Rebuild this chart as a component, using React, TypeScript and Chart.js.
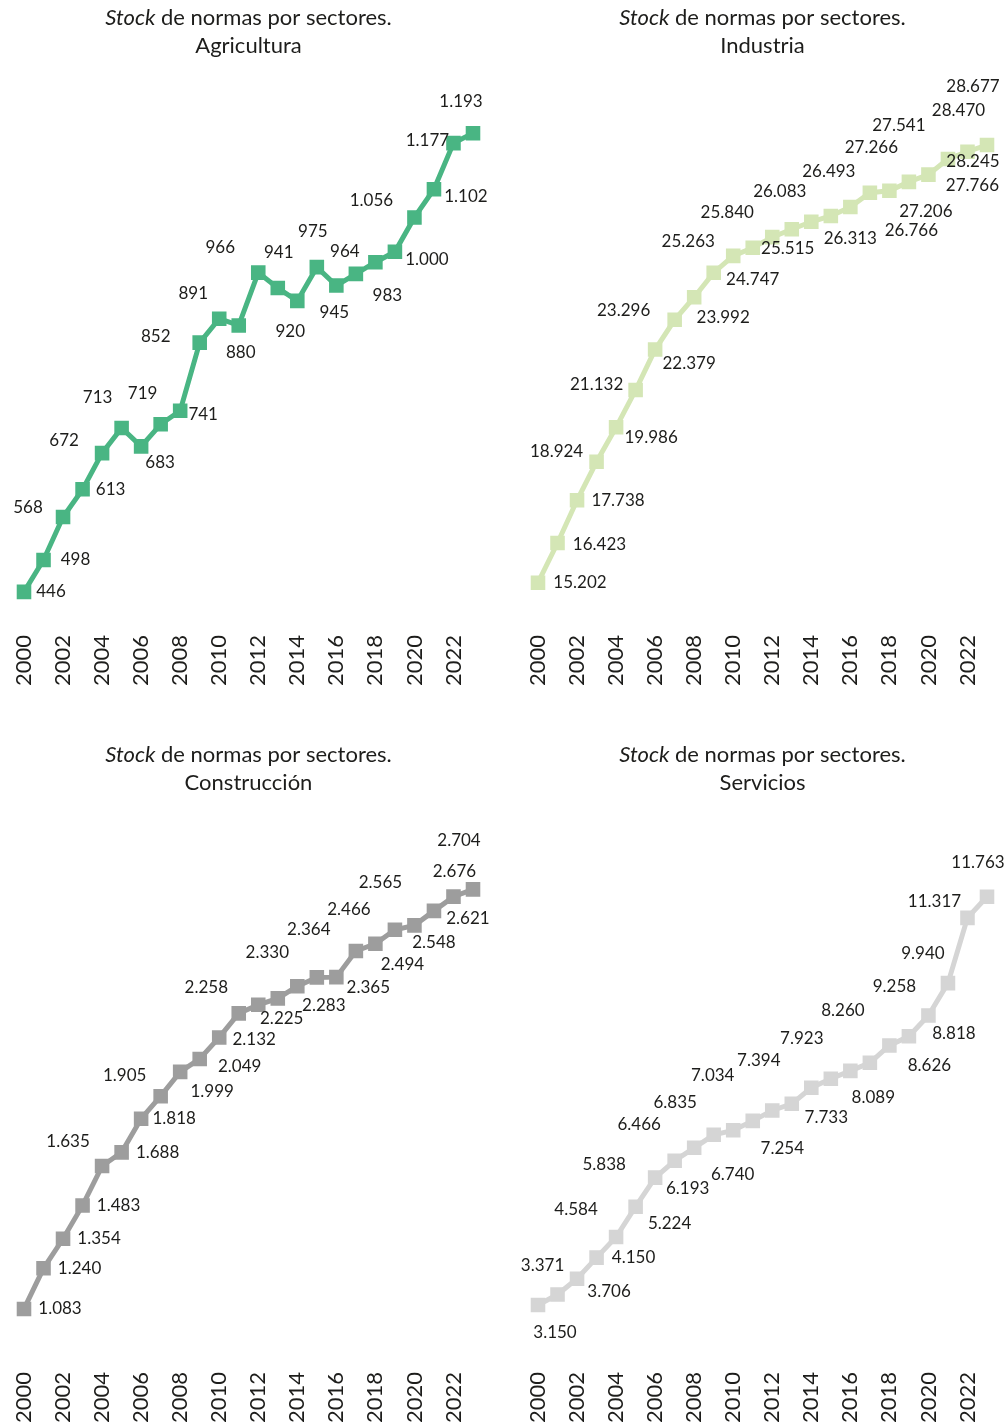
import React, { useEffect, useRef } from "react";
import { Chart, registerables } from "chart.js";

Chart.register(...registerables);

const years = [
  "2000", "2001", "2002", "2003", "2004", "2005", "2006", "2007", "2008", "2009", "2010", "2011",
  "2012", "2013", "2014", "2015", "2016", "2017", "2018", "2019", "2020", "2021", "2022", "2023",
];

const agriculturaValues = [446, 498, 568, 613, 672, 713, 683, 719, 741, 852, 891, 880, 966, 941, 920, 975, 945, 964, 983, 1000, 1056, 1102, 1177, 1193];
const industriaValues = [15202, 16423, 17738, 18924, 19986, 21132, 22379, 23296, 23992, 24747, 25263, 25515, 25840, 26083, 26313, 26493, 26766, 27206, 27266, 27541, 27766, 28245, 28470, 28677];
const construccionValues = [1083, 1240, 1354, 1483, 1635, 1688, 1818, 1905, 1999, 2049, 2132, 2225, 2258, 2283, 2330, 2364, 2365, 2466, 2494, 2548, 2565, 2621, 2676, 2704];
const serviciosValues = [3150, 3371, 3706, 4150, 4584, 5224, 5838, 6193, 6466, 6740, 6835, 7034, 7254, 7394, 7733, 7923, 8089, 8260, 8626, 8818, 9258, 9940, 11317, 11763];

// label nudges (px, relative to each point) — styling only
const agriculturaNudge = [[27, 0], [32, 0], [-35, -9], [28, 0], [-38, -13], [-24, -30], [19, 16], [-18, -31], [23, 4], [-44, -6], [-26, -25], [2, 27], [-38, -25], [1, -35], [-7, 31], [-4, -36], [-2, 27], [-11, -22], [12, 33], [32, 8], [-43, -17], [32, 7], [-26, -3], [-12, -32]];
const industriaNudge = [[42, 0], [42, 1], [41, 0], [-40, -10], [35, 10], [-39, -6], [34, 14], [-51, -9], [29, 20], [39, 7], [-45, -14], [35, 1], [-45, -25], [-12, -38], [39, 17], [-2, -44], [61, 23], [56, 19], [-18, -43], [-10, -56], [44, 11], [25, 2], [-9, -41], [-14, -58]];
const construccionNudge = [[36, 0], [36, 0], [36, 0], [36, 0], [-34, -25], [36, 0], [33, 0], [-36, -21], [32, 20], [40, 8], [35, 2], [43, 5], [-52, -17], [46, 7], [-30, -34], [-8, -48], [32, 10], [-7, -41], [27, 21], [39, 13], [-34, -43], [34, 8], [1, -25], [-14, -49]];
const serviciosNudge = [[17, 27], [-15, -29], [32, 13], [37, 0], [-40, -28], [34, 17], [-51, -13], [13, 28], [-55, -23], [19, 40], [-58, -28], [-40, -45], [10, 38], [-33, -43], [15, 30], [-29, -40], [23, 27], [-27, -52], [40, 20], [45, -3], [-34, -29], [-25, -30], [-33, -16], [-9, -34]];

const FONT = "Lato, 'Open Sans', sans-serif";
const TEXT = "#1d1d1b";

function fmt(v: number): string {
  return String(v).replace(/\B(?=(\d{3})+(?!\d))/g, ".");
}

type PanelProps = {
  sector: string;
  values: number[];
  nudge: number[][];
  color: string;
  yMin: number;
  yMax: number;
  left: number;
  top: number;
};

function Panel({ sector, values, nudge, color, yMin, yMax, left, top }: PanelProps) {
  const ref = useRef<HTMLCanvasElement>(null);
  useEffect(() => {
    const titlePlugin = {
      id: "panelTitle",
      afterDraw(chart: any) {
        const ctx = chart.ctx;
        const ca = chart.chartArea;
        const cx = (ca.left + ca.right) / 2;
        ctx.save();
        ctx.fillStyle = TEXT;
        ctx.textBaseline = "middle";
        const italic = `italic 22px ${FONT}`;
        const normal = `22px ${FONT}`;
        const a = "Stock";
        const b = " de normas por sectores.";
        ctx.font = italic;
        const wa = ctx.measureText(a).width;
        ctx.font = normal;
        const wb = ctx.measureText(b).width;
        const x0 = cx - (wa + wb) / 2;
        ctx.textAlign = "left";
        ctx.font = italic;
        ctx.fillText(a, x0, 18);
        ctx.font = normal;
        ctx.fillText(b, x0 + wa, 18);
        ctx.textAlign = "center";
        ctx.fillText(sector, cx, 46);
        ctx.restore();
      },
    };
    const labelPlugin = {
      id: "pointLabels",
      afterDatasetsDraw(chart: any) {
        const ctx = chart.ctx;
        const meta = chart.getDatasetMeta(0);
        ctx.save();
        ctx.fillStyle = TEXT;
        ctx.font = `17px ${FONT}`;
        ctx.textAlign = "center";
        ctx.textBaseline = "middle";
        meta.data.forEach((pt: any, i: number) => {
          const [dx, dy] = nudge[i];
          ctx.fillText(fmt(values[i]), pt.x + dx, pt.y + dy);
        });
        ctx.restore();
      },
    };
    const chart = new Chart(ref.current as HTMLCanvasElement, {
      type: "line",
      data: {
        labels: years,
        datasets: [
          {
            data: values,
            borderColor: color,
            backgroundColor: color,
            borderWidth: 5,
            pointStyle: "rect",
            pointRadius: 10.3,
            pointHoverRadius: 10.3,
            pointBorderWidth: 0,
            pointBackgroundColor: color,
            tension: 0,
          },
        ],
      },
      options: {
        responsive: false,
        animation: false,
        devicePixelRatio: 1,
        events: [],
        layout: { padding: { top: 75, left: 24, right: 18, bottom: 0 } },
        plugins: {
          legend: { display: false },
          tooltip: { enabled: false },
          title: { display: false },
        },
        scales: {
          x: {
            grid: { display: false, drawTicks: false },
            border: { display: false },
            ticks: {
              autoSkip: false,
              minRotation: 90,
              maxRotation: 90,
              padding: 10,
              color: TEXT,
              font: { family: FONT, size: 22 },
              callback: (_v: any, i: number) => (i % 2 === 0 ? years[i] : ""),
            },
            afterFit: (s: any) => {
              s.height = 66;
              s.paddingLeft = 0;
              s.paddingRight = 0;
            },
          },
          y: { display: false, min: yMin, max: yMax },
        },
      } as any,
      plugins: [titlePlugin, labelPlugin],
    });
    return () => chart.destroy();
  }, []);
  return (
    <canvas
      ref={ref}
      width={491}
      height={691}
      style={{ position: "absolute", left, top, width: 491, height: 691 }}
    />
  );
}

export default function App() {
  return (
    <div style={{ position: "absolute", left: 0, top: 0, width: 1005, height: 1428, background: "#fff" }}>
      <Panel sector="Agricultura" values={agriculturaValues} nudge={agriculturaNudge} color="#49b583" yMin={392} yMax={1288} left={0} top={0} />
      <Panel sector="Industria" values={industriaValues} nudge={industriaNudge} color="#d4e6b5" yMin={13900} yMax={30832} left={514} top={0} />
      <Panel sector="Construcción" values={construccionValues} nudge={construccionNudge} color="#9d9d9d" yMin={878} yMax={3003} left={0} top={737} />
      <Panel sector="Servicios" values={serviciosValues} nudge={serviciosNudge} color="#d5d5d5" yMin={1948} yMax={13550} left={514} top={737} />
    </div>
  );
}
